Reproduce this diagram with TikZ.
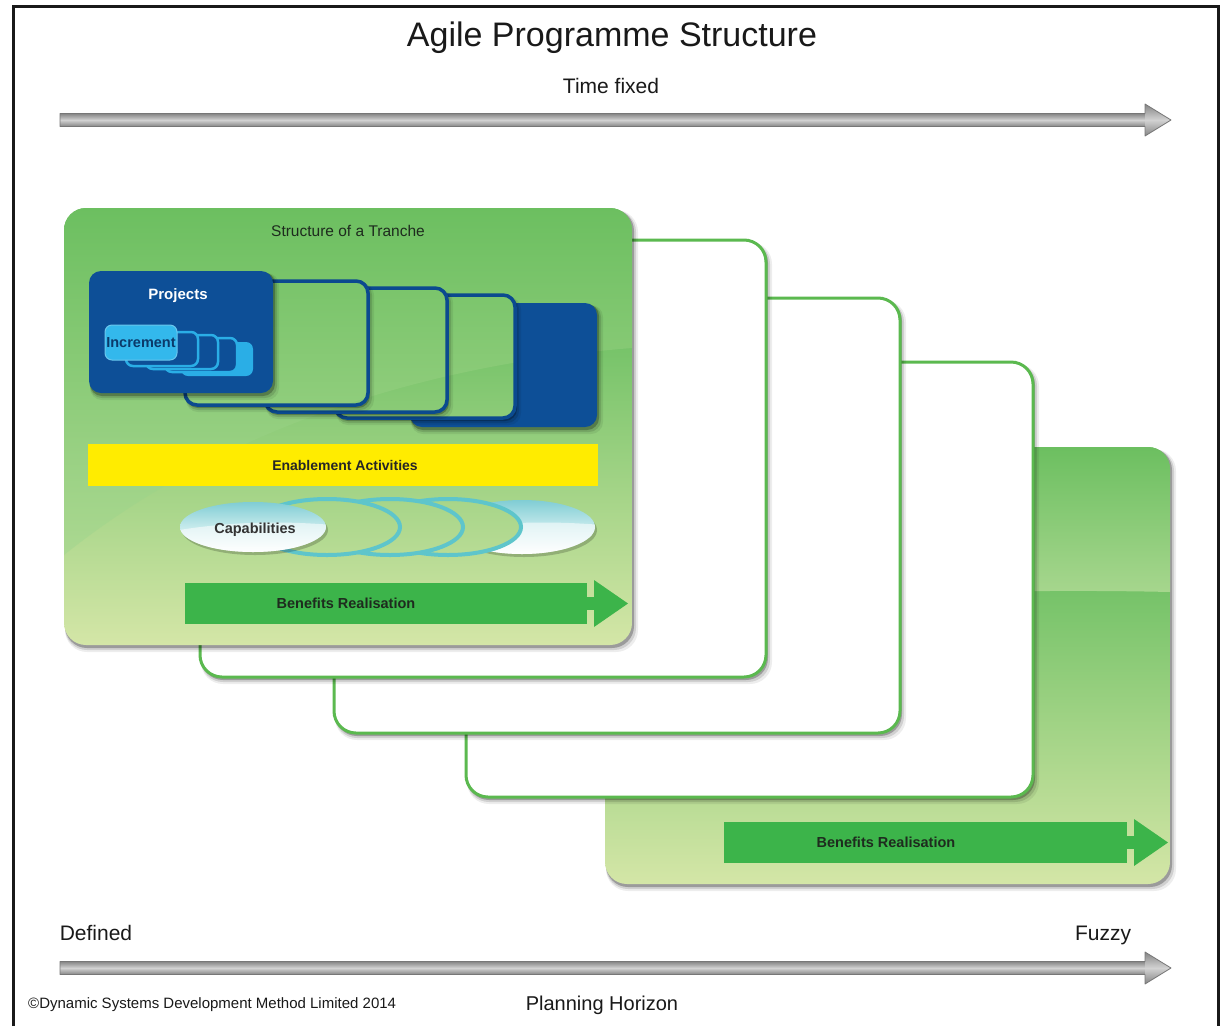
\documentclass[tikz,border=0pt]{standalone}
\usepackage{fontspec}
\setmainfont{Liberation Sans}
\usetikzlibrary{calc}

\definecolor{cardtop}{HTML}{6CBF60}
\definecolor{cardmid}{HTML}{ABD891}
\definecolor{cardlow}{HTML}{76C369}
\definecolor{cardbot}{HTML}{D4E6A7}
\definecolor{cardedge}{HTML}{5BB94F}
\definecolor{projblue}{HTML}{0D4F97}
\definecolor{projline}{HTML}{0B4A8F}
\definecolor{incfill}{HTML}{33B8EC}
\definecolor{incline}{HTML}{2AAEE6}
\definecolor{inctext}{HTML}{0B3A6A}
\definecolor{enable}{HTML}{FFEC00}
\definecolor{capring}{HTML}{5EC5CB}
\definecolor{captop}{HTML}{80CDD4}
\definecolor{capmid}{HTML}{C6EAEC}
\definecolor{benefit}{HTML}{3CB44A}
\definecolor{darktext}{HTML}{1E2B1E}
\definecolor{arrowdark}{HTML}{858585}
\definecolor{arrowlight}{HTML}{D2D2D2}
\definecolor{arrowedge}{HTML}{777777}

% soft drop shadow under a rounded rectangle
\newcommand\softshadow[5]{%
  \fill[black,opacity=.07,rounded corners=#5] ($(#1,#2)+(1,2)$) rectangle ($(#3,#4)+(6,7)$);
  \fill[black,opacity=.12,rounded corners=#5] ($(#1,#2)+(1,2)$) rectangle ($(#3,#4)+(4,5)$);
  \fill[black,opacity=.25,rounded corners=#5] ($(#1,#2)+(1,1)$) rectangle ($(#3,#4)+(2,3)$);
}

% glossy green background of the front tranche
\newcommand\trancheAfill{%
  \shade[top color=cardlow, bottom color=cardbot] (64,345) rectangle (632,645);
  \fill[cardlow] (64,208) rectangle (632,346);
  \shade[top color=cardtop, bottom color=cardmid]
    (64,208) -- (632,208) -- (632,348) .. controls (420,365) and (220,430) .. (64,555) -- cycle;
}

% glossy green background of the last tranche
\newcommand\trancheEfill{%
  \shade[top color=cardlow, bottom color=cardbot] (605,592) rectangle (1170,884);
  \fill[cardlow] (605,447) rectangle (1170,593);
  \shade[top color=cardtop, bottom color=cardmid]
    (605,447) -- (1170,447) -- (1170,592) .. controls (1000,588) and (800,596) .. (605,604) -- cycle;
}

% grey axis arrow at height #1
\newcommand\axisarrow[1]{%
  \begin{scope}[shift={(0,#1)}]
    \shade[top color=arrowdark, bottom color=arrowdark, middle color=arrowlight] (60,-6.5) rectangle (1147,6.5);
    \shade[top color=arrowdark, bottom color=arrowdark, middle color=arrowlight] (1145,-16) -- (1171,0) -- (1145,16) -- cycle;
    \draw[arrowedge, line width=.8pt, line join=round]
      (60,-6.5) -- (1145,-6.5) -- (1145,-16) -- (1171,0) -- (1145,16) -- (1145,6.5) -- (60,6.5) -- cycle;
  \end{scope}}

% green benefits arrow: body from #1 to #2 at centre height #3
\newcommand\benefitarrow[3]{%
  \begin{scope}[shift={(0,#3)}]
    \fill[benefit] (#1,-20.5) rectangle (#2,20.5);
    \fill[benefit] ($(#2,-6.5)+(-1,0)$) rectangle ($(#2,6.5)+(8,0)$);
    \fill[benefit] ($(#2,-23.5)+(7,0)$) -- ($(#2,0)+(41,0)$) -- ($(#2,23.5)+(7,0)$) -- cycle;
  \end{scope}}

% glossy capability disc centred at (#1,#2) with vertical radius #3
\newcommand\capdisc[3]{%
  \fill[black, opacity=.2] ($(#1,#2)+(2,3)$) ellipse [x radius=73pt, y radius=#3];
  \shade[top color=captop, bottom color=white, middle color=capmid] (#1,#2) ellipse [x radius=73pt, y radius=#3];
  \begin{scope}
    \clip (#1,#2) ellipse [x radius=73pt, y radius=#3];
    \fill[white, opacity=.55] ($(#1,#2)+(-80,4)$) .. controls ($(#1,#2)+(-20,-6)$) and ($(#1,#2)+(30,-6)$) .. ($(#1,#2)+(80,-2)$) -- ($(#1,#2)+(80,40)$) -- ($(#1,#2)+(-80,40)$) -- cycle;
  \end{scope}}

\begin{document}
\begin{tikzpicture}[x=1pt,y=-1pt,
  lbl/.style={inner sep=0pt, text=black!90},
  inlbl/.style={inner sep=0pt, font=\bfseries\fontsize{14.5}{16}\selectfont},
  projrect/.style={rounded corners=12pt},
  increct/.style={rounded corners=7pt},
  whitecard/.style={fill=white, draw=cardedge, line width=3pt, rounded corners=22pt}]

\useasboundingbox (0,0) rectangle (1224,1026);
\fill[white] (0,0) rectangle (1224,1026);
\draw[line width=3pt, black!90] (13,1026) -- (13,6) -- (1218,6) -- (1218,1026);

% headings
\node[lbl, font=\fontsize{34}{38}\selectfont] (title) at (612,38) {Agile Programme Structure};
\node[lbl, font=\fontsize{21}{24}\selectfont] (timefixed) at (611,86) {Time fixed};
\axisarrow{120}

% tranches, back to front
\softshadow{605}{447}{1170}{884}{22pt}
\begin{scope}
  \clip[rounded corners=22pt] (605,447) rectangle (1170,884);
  \trancheEfill
\end{scope}
\benefitarrow{724}{1127}{842.5}
\node[inlbl, text=darktext] (benefitsE) at (886,842) {Benefits Realisation};

\softshadow{466}{362}{1033}{797}{22pt}
\draw[whitecard] (466,362) rectangle (1033,797);
\softshadow{334}{298}{900}{733}{22pt}
\draw[whitecard] (334,298) rectangle (900,733);
\softshadow{200}{240}{766}{677}{22pt}
\draw[whitecard] (200,240) rectangle (766,677);

\softshadow{64}{208}{632}{645}{22pt}
\begin{scope}
  \clip[rounded corners=22pt] (64,208) rectangle (632,645);
  \trancheAfill
\end{scope}
\node[lbl, text=darktext, font=\fontsize{15.5}{18}\selectfont] (tranche) at (348,231) {Structure of a Tranche};

% projects stack
\softshadow{410}{303}{597}{427}{12pt}
\fill[projblue, projrect] (410,303) rectangle (597,427);
\foreach \xa/\ya/\xb/\yb in {335/295/515/418, 265/288/447/412, 185/281/368/405} {
  \softshadow{\xa}{\ya}{\xb}{\yb}{12pt}
  \begin{scope}
    \clip[projrect] (\xa,\ya) rectangle (\xb,\yb);
    \trancheAfill
  \end{scope}
  \draw[projline, line width=3.5pt, projrect] (\xa,\ya) rectangle (\xb,\yb);
}
\softshadow{89}{271}{273}{393}{12pt}
\fill[projblue, projrect] (89,271) rectangle (273,393);
\node[inlbl, text=white, font=\bfseries\fontsize{15}{17}\selectfont] (projects) at (178,296) {Projects};

% increments inside the project
\fill[incline, increct] (181,342) rectangle (253,376);
\foreach \xa/\ya in {165/338, 146/335, 126/332} {
  \draw[fill=projblue, draw=incline, line width=2.5pt, increct] (\xa,\ya) rectangle ++(72,34);
}
\draw[fill=incfill, draw=incline!70!white, line width=1pt, increct] (105,325) rectangle (177,360);
\node[inlbl, text=inctext] (increment) at (141,343) {Increment};

% enablement activities
\fill[enable] (88,444) rectangle (598,486);
\node[inlbl, text=black!85, font=\bfseries\fontsize{14}{16}\selectfont] (enablement) at (345,465) {Enablement Activities};

% capabilities
\capdisc{522}{527}{27pt}
\foreach \cx in {448, 390, 327} {
  \begin{scope}
    \clip (\cx,527) ellipse [x radius=73pt, y radius=28pt];
    \trancheAfill
  \end{scope}
  \draw[capring, line width=4pt] (\cx,527) ellipse [x radius=73pt, y radius=28pt];
}
\capdisc{253}{527}{25pt}
\node[inlbl, text=black!80] (capabilities) at (255,530) {Capabilities};

% benefits realisation of the front tranche
\benefitarrow{185}{587}{603.5}
\node[inlbl, text=darktext] (benefitsA) at (346,603) {Benefits Realisation};

% planning horizon
\node[lbl, font=\fontsize{21}{24}\selectfont, anchor=base] (defined) at (96,940) {Defined};
\node[lbl, font=\fontsize{21}{24}\selectfont, anchor=base] (fuzzy) at (1103,940) {Fuzzy};
\axisarrow{968}
\node[lbl, font=\fontsize{20}{24}\selectfont] (horizon) at (602,1005) {Planning Horizon};
\node[lbl, font=\fontsize{15}{17}\selectfont, anchor=west] (copyright) at (28,1005) {©Dynamic Systems Development Method Limited 2014};

\end{tikzpicture}
\end{document}
